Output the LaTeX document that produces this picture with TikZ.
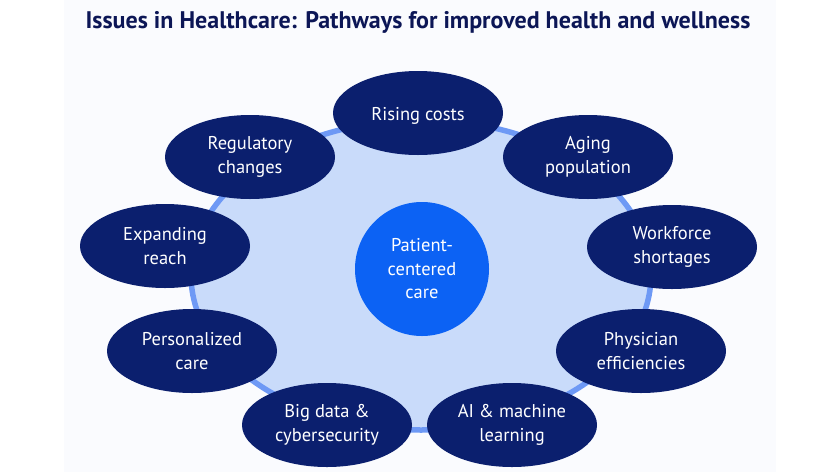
\documentclass[tikz,border=0pt]{standalone}
\usepackage{fontspec}
\setmainfont{PT Sans}
\usetikzlibrary{shapes.geometric}

\definecolor{navy}{HTML}{0B1F6E}
\definecolor{titleblue}{HTML}{0C1656}
\definecolor{corefill}{HTML}{0C62F4}
\definecolor{diskfill}{HTML}{C9DBFA}
\definecolor{ringline}{HTML}{6E99F5}
\definecolor{panel}{HTML}{FAFBFE}

\tikzset{
  issue/.style={ellipse, fill=navy, text=white, minimum width=170pt,
    minimum height=84pt, inner sep=0pt, align=center,
    font=\fontsize{18.5}{23.5}\selectfont},
  core/.style={circle, fill=corefill, text=white, minimum size=134pt,
    inner sep=0pt, align=center, font=\fontsize{18.5}{23.5}\selectfont}
}

\begin{document}
\begin{tikzpicture}[x=1pt,y=-1pt]
\useasboundingbox (0,0) rectangle (840,472);
\fill[white] (0,0) rectangle (840,472);
\fill[panel] (64,0) rectangle (776,472);

\node[anchor=base, text=titleblue, font=\fontsize{24}{28}\selectfont\bfseries] (title) at (418,28)
  {Issues in Healthcare: Pathways for improved health and wellness};

% ring behind the issues
\filldraw[fill=diskfill, draw=ringline, line width=5.5pt] (421,275) ellipse [x radius=230, y radius=155];

\node[core] (care) at (422,269) {Patient-\\centered\\care};

\node[issue] (costs) at (418,113) {\strut\rule{0pt}{22.5pt}Rising costs};
\node[issue] (aging) at (588,157) {Aging\\population};
\node[issue] (workforce) at (672,247) {Workforce\\shortages};
\node[issue] (physician) at (641,351) {Physician\\efficiencies};
\node[issue] (ai) at (512,425) {AI \& machine\\learning};
\node[issue] (bigdata) at (327,425) {Big data \&\\cybersecurity};
\node[issue] (personal) at (192,351) {Personalized\\care};
\node[issue] (reach) at (165,246) {Expanding\\reach};
\node[issue] (regulatory) at (250,157) {Regulatory\\changes};
\end{tikzpicture}
\end{document}
